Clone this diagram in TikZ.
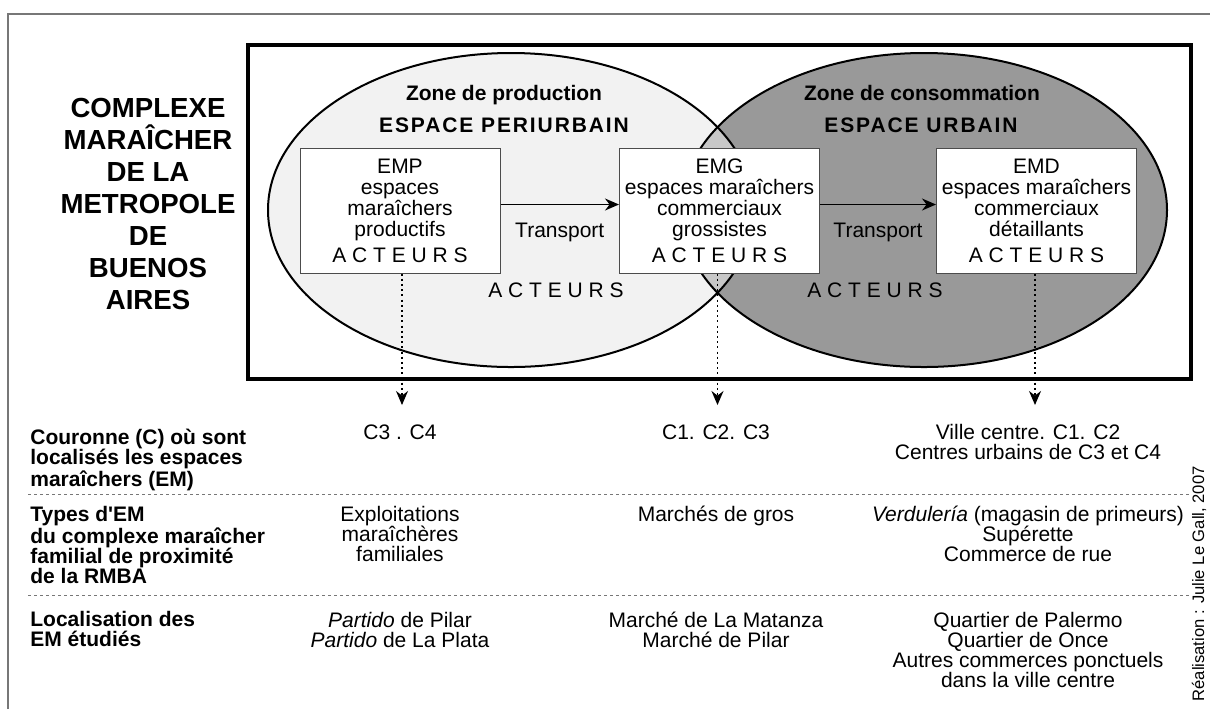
\documentclass[tikz,border=0pt]{standalone}
\usepackage{fontspec}
\setmainfont{Liberation Sans}
\newfontfamily\labfont{Liberation Sans}
\newfontfamily\spacedfont[LetterSpace=9]{Liberation Sans}
\usetikzlibrary{arrows.meta}
\definecolor{prodgray}{HTML}{F2F2F2}
\definecolor{consgray}{HTML}{999999}
\definecolor{intergray}{HTML}{C8C8C8}
\definecolor{framegray}{HTML}{777777}
\begin{document}
\begin{tikzpicture}[x=0.5pt,y=-0.5pt,>={Stealth[length=7pt,width=6pt]},
  txt/.style={inner sep=0pt,align=center,font=\fontsize{10.5}{10}\selectfont},
  col/.style={txt,anchor=north},
  rowlab/.style={inner sep=0pt,align=left,anchor=north west,font=\labfont\bfseries\fontsize{10.5}{10}\selectfont},
  emspace/.style={draw=black!70,fill=white,line width=0.5pt,minimum width=100pt,minimum height=62.5pt,inner sep=0pt,align=center,font=\fontsize{10.5}{10.5}\selectfont},
  zone/.style={inner sep=0pt,anchor=base,font=\bfseries\fontsize{10.5}{12}\selectfont},
  espace/.style={inner sep=0pt,anchor=base,font=\spacedfont\bfseries\fontsize{10.5}{12}\selectfont},
  acteurs/.style={inner sep=0pt,anchor=base,font=\fontsize{10.5}{12}\selectfont},
  titre/.style={inner sep=0pt,align=center,font=\bfseries\fontsize{13.8}{16}\selectfont},
  flux/.style={->,line width=0.65pt},
  renvoi/.style={->,line width=0.7pt,dash pattern=on 1pt off 1.6pt,shorten >=9.5pt},
  sep/.style={framegray,line width=0.5pt,dash pattern=on 1.5pt off 1.5pt}]
\useasboundingbox (0,0) rectangle (1210,709);
%%
\draw [framegray,line width=0.75pt] (8,709) -- (8,14) -- (1210,14);
\fill [prodgray] (511,210) ellipse [x radius=121.5pt,y radius=78.5pt];
\fill [consgray] (924,210) ellipse [x radius=121.5pt,y radius=78.5pt];
\begin{scope}
  \clip (511,210) ellipse [x radius=121.5pt,y radius=78.5pt];
  \fill [intergray] (924,210) ellipse [x radius=121.5pt,y radius=78.5pt];
\end{scope}
\draw [line width=1pt] (511,210) ellipse [x radius=121.5pt,y radius=78.5pt];
\draw [line width=1pt] (924,210) ellipse [x radius=121.5pt,y radius=78.5pt];
\draw [line width=2pt] (248,45) rectangle (1191,379);
%%
\node (titre) at (148,204) [titre] {COMPLEXE\\MARAÎCHER\\DE LA\\METROPOLE\\DE\\BUENOS\\AIRES};
\node (zprod) at (504,100.5) [zone] {Zone de production};
\node (zcons) at (922,100.5) [zone] {Zone de consommation};
\node (peri) at (504,132.5) [espace] {ESPACE PERIURBAIN};
\node (urb) at (921,132.5) [espace] {ESPACE URBAIN};
\node (emp) at (400,210.5) [emspace] {EMP\\espaces\\maraîchers\\productifs\\[2.5pt]A C T E U R S};
\node (emg) at (719.5,210.5) [emspace] {EMG\\espaces maraîchers\\commerciaux\\grossistes\\[2.5pt]A C T E U R S};
\node (emd) at (1036.5,210.5) [emspace] {EMD\\espaces maraîchers\\commerciaux\\détaillants\\[2.5pt]A C T E U R S};
\node (actprod) at (556,297.5) [acteurs] {A C T E U R S};
\node (actcons) at (875,297.5) [acteurs] {A C T E U R S};
%
\node (lab1) at (30,429) [rowlab] {Couronne (C) où sont\\localisés les espaces\\maraîchers (EM)};
\node (lab2) at (30,506) [rowlab] {Types d'EM\\du complexe maraîcher\\familial de proximité\\de la RMBA};
\node (lab3) at (30,611) [rowlab] {Localisation des\\EM étudiés};
\node (c3c4) at (400,424) [col] {C3 . C4};
\node (c1c2c3) at (716,424) [col] {C1. C2. C3};
\node (villec) at (1028,424) [col] {Ville centre. C1. C2\\Centres urbains de C3 et C4};
\node (expl) at (400,506) [col] {Exploitations\\maraîchères\\familiales};
\node (gros) at (716,506) [col] {Marchés de gros};
\node (verd) at (1028,506) [col] {\textit{Verdulería} (magasin de primeurs)\\Supérette\\Commerce de rue};
\node (partido) at (400,612) [col] {\textit{Partido} de Pilar\\\textit{Partido} de La Plata};
\node (marche) at (716,612) [col] {Marché de La Matanza\\Marché de Pilar};
\node (quartier) at (1028,612) [col] {Quartier de Palermo\\Quartier de Once\\Autres commerces ponctuels\\dans la ville centre};
\node (credit) at (1204,466) [rotate=90,anchor=base east,inner sep=0pt,font=\fontsize{8.3}{10}\selectfont] {Réalisation : Julie Le Gall, 2007};
%
\draw [sep] (28,494) -- (1192,494);
\draw [sep] (28,595) -- (1192,595);
\draw [flux] ([yshift=3pt]emp.east) -- ([yshift=3pt]emg.west) node [midway,txt,anchor=base,yshift=-16.5pt] {Transport};
\draw [flux] ([yshift=3pt]emg.east) -- ([yshift=3pt]emd.west) node [midway,txt,anchor=base,yshift=-16.5pt] {Transport};
\draw [renvoi] ([xshift=1pt]emp.south) -- ([xshift=1pt]emp.south |- c3c4.north);
\draw [renvoi] ([xshift=-1pt]emg.south) -- ([xshift=-1pt]emg.south |- c1c2c3.north);
\draw [renvoi] ([xshift=-0.75pt]emd.south) -- ([xshift=-0.75pt]emd.south |- villec.north);
%
\end{tikzpicture}
\end{document}
